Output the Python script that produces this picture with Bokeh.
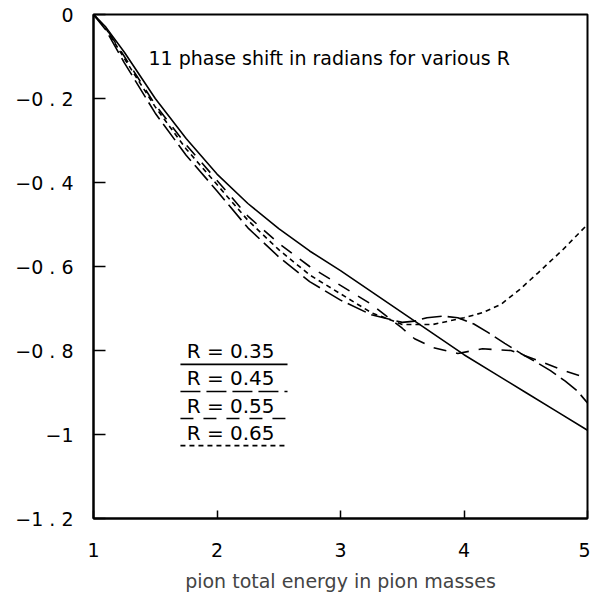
from bokeh.plotting import figure
from bokeh.models import Range1d, FixedTicker, Label
from bokeh.embed import file_html
from bokeh.resources import INLINE

# ---- data ----
x_r035 = [1, 1.1, 1.25, 1.5, 1.75, 2, 2.25, 2.5, 2.75, 3, 3.25, 3.5, 3.75, 4, 4.25, 4.5, 4.75, 5]
y_r035 = [0, -0.03, -0.09, -0.20, -0.295, -0.38, -0.45, -0.51, -0.563, -0.61, -0.66, -0.71, -0.76, -0.81, -0.855, -0.90, -0.945, -0.99]

x_r045 = [1, 1.1, 1.25, 1.5, 1.75, 2, 2.25, 2.5, 2.75, 3, 3.25, 3.5, 3.6, 3.7, 3.83, 3.95, 4.08, 4.2, 4.33, 4.46, 4.58, 4.7, 4.82, 4.92, 5]
y_r045 = [0, -0.037, -0.115, -0.235, -0.335, -0.42, -0.508, -0.577, -0.636, -0.68, -0.715, -0.733, -0.73, -0.722, -0.718, -0.722, -0.737, -0.758, -0.783, -0.807, -0.827, -0.848, -0.873, -0.897, -0.925]

x_r055 = [1, 1.1, 1.25, 1.5, 1.75, 2, 2.25, 2.5, 2.75, 3, 3.25, 3.5, 3.6, 3.75, 3.95, 4.15, 4.38, 4.6, 4.8, 5]
y_r055 = [0, -0.032, -0.10, -0.215, -0.31, -0.395, -0.48, -0.545, -0.60, -0.645, -0.69, -0.747, -0.772, -0.793, -0.807, -0.796, -0.80, -0.824, -0.847, -0.866]

x_r065 = [1, 1.1, 1.25, 1.5, 1.75, 2, 2.25, 2.5, 2.75, 3, 3.25, 3.5, 3.75, 4.0, 4.15, 4.3, 4.45, 4.6, 4.8, 5]
y_r065 = [0, -0.033, -0.105, -0.22, -0.32, -0.405, -0.49, -0.56, -0.62, -0.665, -0.71, -0.738, -0.738, -0.722, -0.71, -0.69, -0.655, -0.615, -0.56, -0.50]

series_labels = ["R = 0.35", "R = 0.45", "R = 0.55", "R = 0.65"]
x_ticks = [1, 2, 3, 4, 5]
y_ticks = [0, -0.2, -0.4, -0.6, -0.8, -1, -1.2]
y_tick_labels = ["0", "\u22120 . 2", "\u22120 . 4", "\u22120 . 6", "\u22120 . 8", "\u22121", "\u22121 . 2"]
title_text = "11 phase shift in radians for various R"
x_label = "pion total energy in pion masses"

FONT = "DejaVu Sans"
FS = "19px"

p = figure(width=590, height=594, output_backend="svg", toolbar_location=None,
           x_range=Range1d(1, 5), y_range=Range1d(-1.2, 0),
           min_border_left=93, min_border_right=3, min_border_top=14, min_border_bottom=70)
p.grid.visible = False
p.background_fill_color = "white"
p.border_fill_color = "white"
p.outline_line_color = "black"
p.outline_line_width = 2

# axes
for ax in (p.xaxis[0], p.yaxis[0]):
    ax.axis_line_color = "black"
    ax.axis_line_width = 2
    ax.major_tick_out = 0
    ax.major_tick_line_width = 1.5
    ax.minor_tick_line_color = None
    ax.major_label_text_font = FONT
    ax.major_label_text_font_size = FS
    ax.major_label_text_color = "black"
    ax.major_label_text_font_style = "normal"

p.yaxis.ticker = FixedTicker(ticks=y_ticks)
p.yaxis.major_tick_in = 12
p.yaxis.major_label_standoff = 20
p.yaxis.major_label_overrides = {t: l for t, l in zip(y_ticks, y_tick_labels)}

p.xaxis.ticker = FixedTicker(ticks=x_ticks)
p.xaxis.major_tick_in = 8
p.xaxis.major_label_standoff = 24
p.xaxis.axis_label = x_label
p.xaxis.axis_label_text_font = FONT
p.xaxis.axis_label_text_font_size = FS
p.xaxis.axis_label_text_font_style = "normal"
p.xaxis.axis_label_standoff = 10

# curves
styles = [("solid", 1.6), ("20 6", 1.6), ("13 10", 1.6), ("5 4", 1.6)]
data = [(x_r035, y_r035), (x_r045, y_r045), (x_r055, y_r055), (x_r065, y_r065)]
for (xs, ys), (dash, w) in zip(data, styles):
    p.line(xs, ys, line_color="black", line_width=w, line_dash=dash)

# title inside the plot
p.add_layout(Label(x=1.445, y=-0.1035, text=title_text, text_font=FONT,
                   text_font_size=FS, text_baseline="middle", text_color="black"))

# legend: label above its line sample
leg_text_x = 2.11
leg_line_x0, leg_line_x1 = 1.704, 2.571
leg_top = -0.802
leg_step = -0.0645
leg_line_off = -0.031
for i, (lab, (dash, w)) in enumerate(zip(series_labels, styles)):
    ty = leg_top + i * leg_step
    p.add_layout(Label(x=leg_text_x, y=ty, text=lab, text_font=FONT, text_font_size="20px",
                       text_align="center", text_baseline="middle", text_color="black"))
    p.line([leg_line_x0, leg_line_x1], [ty + leg_line_off, ty + leg_line_off],
           line_color="black", line_width=w, line_dash=dash)

open("out.html", "w").write(file_html(p, INLINE))
